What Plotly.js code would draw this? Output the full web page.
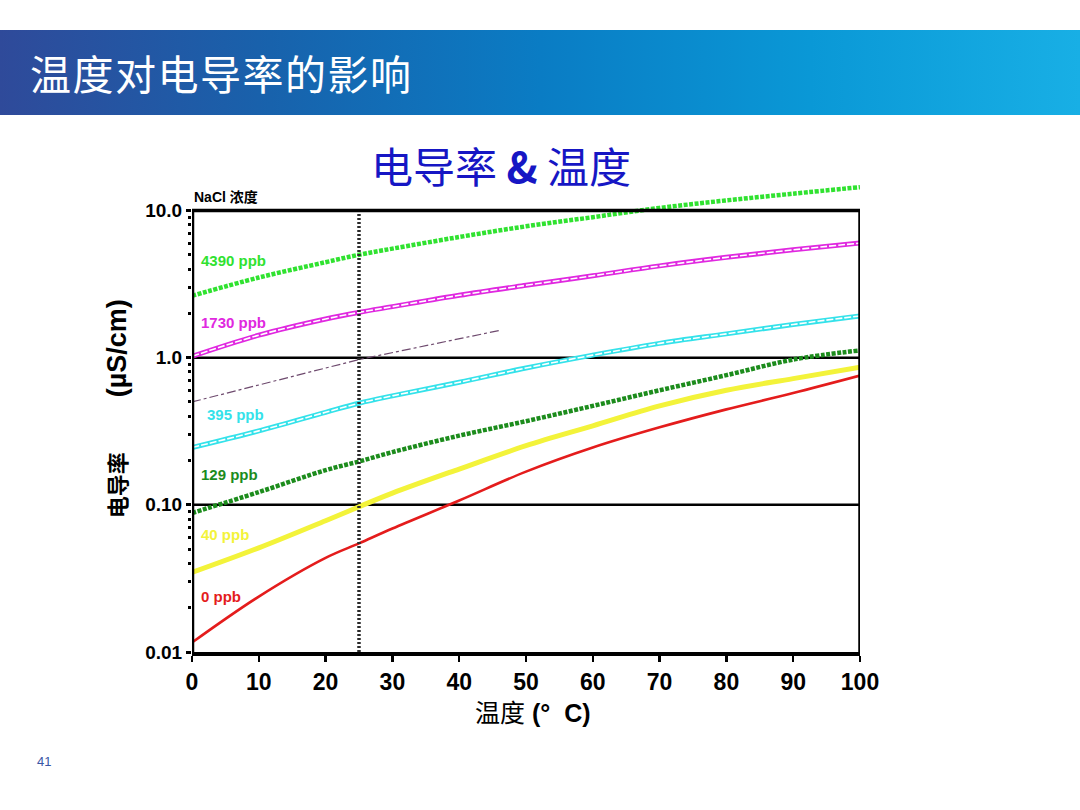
<!DOCTYPE html>
<html>
<head>
<meta charset="utf-8">
<script src="https://cdn.plot.ly/plotly-3.0.1.min.js"></script>
<style>
  body { margin: 0; background: #ffffff; }
  #page { position: relative; width: 1080px; height: 810px; overflow: hidden; }
  #header {
    position: absolute; left: 0; top: 30px; width: 1080px; height: 85px;
    background: linear-gradient(90deg, #2f4a9a 0%, #1862ac 25%, #0a7cc4 50%, #0a98d6 75%, #18afe5 100%);
    color: #ffffff; font-family: "Noto Sans CJK SC", sans-serif; font-size: 41px;
    line-height: 85px; padding-left: 30px; box-sizing: border-box; letter-spacing: 1.5px;
  }
  #chart { position: absolute; left: 0; top: 0; width: 1080px; height: 810px; }
</style>
</head>
<body>
<div id="page">
  <div id="header">温度对电导率的影响</div>
  <div id="chart"></div>
</div>
<script>
// temperature in °C
const temps = [0, 10, 20, 25, 30, 40, 50, 60, 70, 80, 90, 100];

// conductivity in µS/cm for each NaCl concentration
const nacl4390 = [2.63, 3.5, 4.45, 5.0, 5.5, 6.6, 7.8, 9.0, 10.4, 11.7, 13.0, 14.4];
const nacl1730 = [1.02, 1.42, 1.83, 2.03, 2.22, 2.65, 3.1, 3.6, 4.2, 4.8, 5.4, 6.0];
const nacl395  = [0.245, 0.318, 0.425, 0.49, 0.55, 0.68, 0.85, 1.04, 1.25, 1.45, 1.68, 1.92];
const nacl129  = [0.088, 0.122, 0.172, 0.197, 0.228, 0.295, 0.37, 0.47, 0.6, 0.76, 0.97, 1.12];
const nacl40   = [0.0347, 0.051, 0.078, 0.097, 0.12, 0.175, 0.252, 0.344, 0.47, 0.6, 0.72, 0.86];
const nacl0    = [0.0116, 0.0238, 0.0436, 0.0547, 0.069, 0.107, 0.168, 0.245, 0.336, 0.445, 0.575, 0.755];

// dash-dot reference line
const refTemps = [0, 25, 46];
const refValues = [0.5, 0.97, 1.53];

const seriesLabels = ['4390 ppb', '1730 ppb', '395 ppb', '129 ppb', '40 ppb', '0 ppb'];
const xTicks = [0, 10, 20, 30, 40, 50, 60, 70, 80, 90, 100];
const yTicks = [0.01, 0.1, 1, 10];
const yTickText = ['0.01', '0.10', '1.0', '10.0'];

const GREEN = '#30e230', MAGENTA = '#e028e0', CYAN = '#34e2ea',
      DKGREEN = '#1c8c1c', YELLOW = '#f3f33a', RED = '#e41c1c';

function dotted(y, color) {
    return { x: temps, y: y, type: 'scatter', mode: 'lines', hoverinfo: 'skip',
             line: { color: color, width: 4.5, dash: '4px,1.5px', shape: 'spline' } };
}
function chain(y, color) {
    return [
        { x: temps, y: y, type: 'scatter', mode: 'lines', hoverinfo: 'skip',
          line: { color: color, width: 5, shape: 'spline' } },
        { x: temps, y: y, type: 'scatter', mode: 'lines', hoverinfo: 'skip',
          line: { color: '#ffffff', width: 1.6, dash: '7px,2px', shape: 'spline' } }
    ];
}

const traces = [
    dotted(nacl4390, GREEN),
    ...chain(nacl1730, MAGENTA),
    ...chain(nacl395, CYAN),
    dotted(nacl129, DKGREEN),
    { x: temps, y: nacl40, type: 'scatter', mode: 'lines', hoverinfo: 'skip',
      line: { color: YELLOW, width: 5, shape: 'spline' } },
    { x: temps, y: nacl0, type: 'scatter', mode: 'lines', hoverinfo: 'skip',
      line: { color: RED, width: 2.6, shape: 'spline' } },
    { x: refTemps, y: refValues, type: 'scatter', mode: 'lines', hoverinfo: 'skip',
      line: { color: '#6e4a6e', width: 1.2, dash: 'dashdot' } }
];

const labelColors = [GREEN, MAGENTA, CYAN, DKGREEN, YELLOW, RED];
const labelPos = [[1, 0.663], [1, 0.242], [2, -0.383], [1, -0.797], [1, -1.205], [1, -1.626]];

const annotations = seriesLabels.map((t, i) => ({
    x: labelPos[i][0], y: labelPos[i][1], xref: 'x', yref: 'y',
    text: t, showarrow: false, xanchor: 'left', yanchor: 'middle',
    font: { family: 'Liberation Sans, Arial', size: 15, weight: 700, color: labelColors[i] }
}));

annotations.push(
    { xref: 'paper', yref: 'paper', x: 0.4626, y: 1.034, xanchor: 'center', yanchor: 'middle',
      showarrow: false, text: '电导率 <b>&</b> 温度',
      font: { family: 'Noto Sans CJK SC', size: 42, color: '#1616c4' } },
    { xref: 'paper', yref: 'paper', x: 0, y: 0.966, xanchor: 'left', yanchor: 'middle',
      showarrow: false, text: 'NaCl 浓度',
      font: { family: 'Liberation Sans, Noto Sans CJK SC', size: 14, weight: 700, color: '#000' } },
    { xref: 'paper', yref: 'paper', x: -0.111, y: 0.517, xanchor: 'center', yanchor: 'middle',
      textangle: -90, showarrow: false,
      text: '电导率\u00a0\u00a0\u00a0\u00a0\u00a0\u00a0\u00a0\u00a0\u00a0<span style="font-size:27px">(µS/cm)</span>',
      font: { family: 'Liberation Sans, Noto Sans CJK SC', size: 22, weight: 700, color: '#000' } },
    { xref: 'paper', yref: 'paper', x: 0.51, y: -0.1295, xanchor: 'center', yanchor: 'middle',
      showarrow: false, text: '温度 <b>(°  C)</b>',
      font: { family: 'Liberation Sans, Noto Sans CJK SC', size: 25, color: '#000' } },
    { xref: 'paper', yref: 'paper', x: -0.235, y: -0.2335, xanchor: 'left', yanchor: 'middle',
      showarrow: false, text: '41',
      font: { family: 'Liberation Sans, Arial', size: 13, color: '#3a56a6' } }
);

function hline(y, w, layer) {
    return { type: 'line', xref: 'x', yref: 'y', x0: 0, x1: 100, y0: y, y1: y,
             layer: layer, line: { color: '#000', width: w } };
}
function vline(x, w, layer, dash, color) {
    return { type: 'line', xref: 'x', yref: 'y', x0: x, x1: x, y0: 0.01, y1: 10,
             layer: layer, line: { color: color || '#000', width: w, dash: dash || 'solid' } };
}

const shapes = [
    hline(1, 2.5, 'below'),
    hline(0.1, 2.5, 'below'),
    vline(25, 3.5, 'above', '2px,2px', '#2a2a2a'),
    hline(10, 3.5, 'above'),
    vline(100, 3.5, 'above'),
    vline(0, 4.5, 'above')
];

const layout = {
    width: 1080, height: 810,
    margin: { l: 192, r: 220, t: 181, b: 158 },
    paper_bgcolor: 'rgba(0,0,0,0)',
    plot_bgcolor: 'rgba(0,0,0,0)',
    showlegend: false,
    xaxis: {
        range: [0, 100], tickvals: xTicks, ticks: 'outside', ticklen: 6, tickwidth: 2.5,
        tickcolor: '#000', showgrid: false, zeroline: false,
        showline: true, linewidth: 4, linecolor: '#000',
        tickfont: { family: 'Liberation Sans, Arial', size: 23, weight: 700, color: '#000' }
    },
    yaxis: {
        type: 'log', range: [-2, 1.2], tickvals: yTicks, ticktext: yTickText,
        ticks: 'outside', ticklen: 5, tickwidth: 3, tickcolor: '#000',
        showgrid: false, zeroline: false, showline: false,
        minor: { dtick: 'D1', ticks: 'outside', ticklen: 3, tickwidth: 3, tickcolor: '#000', showgrid: false },
        tickfont: { family: 'Liberation Sans, Arial', size: 19, weight: 700, color: '#000' }
    },
    shapes: shapes,
    annotations: annotations
};

Plotly.newPlot('chart', traces, layout, { displayModeBar: false, staticPlot: true });
</script>
</body>
</html>
